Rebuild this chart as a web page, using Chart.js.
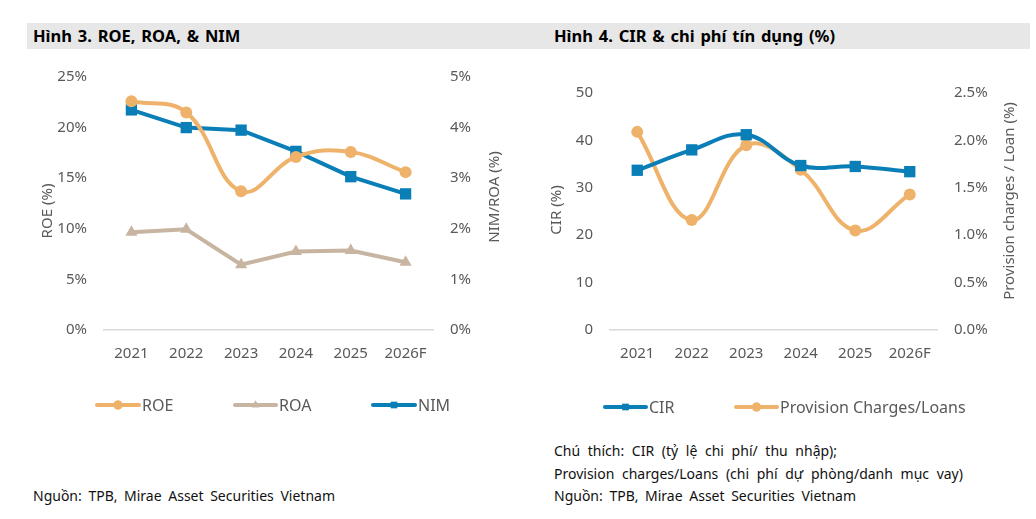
<!DOCTYPE html>
<html>
<head>
<meta charset="utf-8">
<script src="https://cdn.jsdelivr.net/npm/chart.js@4.4.1/dist/chart.umd.min.js"></script>
<style>
  body { margin: 0; background: #fff; width: 1036px; height: 519px; position: relative; overflow: hidden; font-family: "Noto Sans", "Open Sans", sans-serif; }
  .bar { position: absolute; left: 27px; top: 23px; width: 1003px; height: 26px; background: #e7e7e7; }
  .title { position: absolute; top: 24px; font-weight: bold; font-size: 16.5px; word-spacing: 1.5px; color: #000; }
  .note { position: absolute; font-size: 14px; color: #111; word-spacing: 4px; white-space: nowrap; }
  #wrap1 { position: absolute; left: 20px; top: 60px; width: 500px; height: 370px; }
  #wrap2 { position: absolute; left: 540px; top: 60px; width: 496px; height: 370px; }
</style>
</head>
<body>
<div class="bar"></div>
<div class="title" style="left:33px">Hình 3. ROE, ROA, &amp; NIM</div>
<div class="title" style="left:554px">Hình 4. CIR &amp; chi phí tín dụng (%)</div>
<div id="wrap1"><canvas id="chart1"></canvas></div>
<div id="wrap2"><canvas id="chart2"></canvas></div>
<div class="note" style="left:33px;top:486px;word-spacing:3px">Nguồn: TPB, Mirae Asset Securities Vietnam</div>
<div class="note" style="left:554px;top:441px">Chú thích: CIR (tỷ lệ chi phí/ thu nhập);</div>
<div class="note" style="left:554px;top:464px">Provision charges/Loans (chi phí dự phòng/danh mục vay)</div>
<div class="note" style="left:554px;top:486px;word-spacing:3px">Nguồn: TPB, Mirae Asset Securities Vietnam</div>
<script>
// data
var years = ['2021', '2022', '2023', '2024', '2025', '2026F'];
var roe = [22.6, 21.5, 13.7, 17.1, 17.6, 15.6];
var roa = [1.93, 1.99, 1.29, 1.55, 1.57, 1.34];
var nim = [4.35, 4.0, 3.95, 3.53, 3.03, 2.69];
var cir = [33.7, 38.0, 41.2, 34.7, 34.5, 33.4];
var provision = [2.09, 1.16, 1.95, 1.69, 1.05, 1.43];

var ORANGE = '#EFB26A';
var BLUE = '#0A7EB6';
var TAN = '#C8B5A1';
var GREY = '#595959';
var FONT = '"Noto Sans", "Open Sans", sans-serif';

Chart.defaults.font.family = FONT;
Chart.defaults.color = GREY;

// legend drawn as Excel-style line + marker, spots given per chart
var lineLegend = {
  id: 'lineLegend',
  afterDraw: function(chart, args, opts) {
    var ctx = chart.ctx;
    ctx.save();
    chart.data.datasets.forEach(function(ds, i) {
      var it = opts.items[i];
      var y = opts.y;
      ctx.strokeStyle = ds.borderColor;
      ctx.lineWidth = 4;
      ctx.lineCap = 'round';
      ctx.beginPath();
      ctx.moveTo(it.x0, y);
      ctx.lineTo(it.x1, y);
      ctx.stroke();
      ctx.fillStyle = ds.borderColor;
      Chart.helpers.drawPoint(ctx, {pointStyle: ds.pointStyle, radius: 4.5, borderWidth: 0}, (it.x0 + it.x1) / 2, y);
      ctx.fill();
      ctx.fillStyle = GREY;
      ctx.font = '16px ' + FONT;
      ctx.textBaseline = 'middle';
      ctx.fillText(ds.label, it.x1 + 3, y + 1);
    });
    ctx.restore();
  }
};

// vertical axis titles, all read bottom-to-top like the original
var axisTitles = {
  id: 'axisTitles',
  afterDraw: function(chart, args, opts) {
    var ctx = chart.ctx;
    ctx.save();
    ctx.fillStyle = GREY;
    ctx.font = '15px ' + FONT;
    ctx.textAlign = 'center';
    ctx.textBaseline = 'middle';
    opts.items.forEach(function(t) {
      ctx.save();
      ctx.translate(t.x, t.y);
      ctx.rotate(-Math.PI / 2);
      ctx.fillText(t.text, 0, 0);
      ctx.restore();
    });
    ctx.restore();
  }
};

function lineSet(label, data, color, style, radius, axis, tension) {
  return {
    label: label, data: data, yAxisID: axis,
    borderColor: color, backgroundColor: color,
    borderWidth: 4, tension: tension,
    pointStyle: style, pointRadius: radius, pointHoverRadius: radius,
    pointBorderWidth: 0, pointBackgroundColor: color
  };
}

// fixed axis width, and let layout.padding decide the top/bottom
function fixWidth(w) {
  return function(s) { s.width = w; s.paddingTop = 0; s.paddingBottom = 0; };
}

new Chart(document.getElementById('chart1'), {
  type: 'line',
  data: {
    labels: years,
    datasets: [
      lineSet('ROE', roe, ORANGE, 'circle', 6, 'y', 0.4),
      lineSet('ROA', roa, TAN, 'triangle', 7, 'y1', 0),
      lineSet('NIM', nim, BLUE, 'rect', 8, 'y1', 0)
    ]
  },
  options: {
    responsive: true,
    maintainAspectRatio: false,
    animation: false,
    layout: {padding: {top: 17, left: 0, right: 0, bottom: 0}},
    plugins: {
      legend: {display: false},
      tooltip: {enabled: false},
      lineLegend: {
        y: 345,
        items: [{x0: 77, x1: 119}, {x0: 215, x1: 256}, {x0: 353, x1: 395}]
      },
      axisTitles: {
        items: [{text: 'ROE (%)', x: 28, y: 151}, {text: 'NIM/ROA (%)', x: 475, y: 137}]
      }
    },
    scales: {
      x: {
        offset: true,
        grid: {display: false, drawTicks: false},
        border: {color: '#d9d9d9', width: 1.5},
        ticks: {font: {size: 15}, color: GREY, padding: 15},
        afterFit: function(s) { s.height = 100; }
      },
      y: {
        position: 'left', min: 0, max: 25,
        grid: {display: false, drawTicks: false},
        border: {display: false},
        ticks: {stepSize: 5, font: {size: 15}, color: GREY, padding: 17, callback: function(v) { return v + '%'; }},
        afterFit: fixWidth(84)
      },
      y1: {
        position: 'right', min: 0, max: 5,
        grid: {display: false, drawTicks: false},
        border: {display: false},
        ticks: {stepSize: 1, font: {size: 15}, color: GREY, padding: 17, callback: function(v) { return v + '%'; }},
        afterFit: fixWidth(87)
      }
    }
  },
  plugins: [lineLegend, axisTitles]
});

new Chart(document.getElementById('chart2'), {
  type: 'line',
  data: {
    labels: years,
    datasets: [
      lineSet('CIR', cir, BLUE, 'rect', 8, 'y', 0.4),
      lineSet('Provision Charges/Loans', provision, ORANGE, 'circle', 6, 'y1', 0.4)
    ]
  },
  options: {
    responsive: true,
    maintainAspectRatio: false,
    animation: false,
    layout: {padding: {top: 33, left: 0, right: 0, bottom: 0}},
    plugins: {
      legend: {display: false},
      tooltip: {enabled: false},
      lineLegend: {
        y: 347,
        items: [{x0: 65, x1: 106}, {x0: 196, x1: 237}]
      },
      axisTitles: {
        items: [{text: 'CIR (%)', x: 17, y: 150}, {text: 'Provision charges / Loan (%)', x: 470, y: 141}]
      }
    },
    scales: {
      x: {
        offset: true,
        grid: {display: false, drawTicks: false},
        border: {color: '#d9d9d9', width: 1.5},
        ticks: {font: {size: 15}, color: GREY, padding: 15},
        afterFit: function(s) { s.height = 100; }
      },
      y: {
        position: 'left', min: 0, max: 50,
        grid: {display: false, drawTicks: false},
        border: {display: false},
        ticks: {stepSize: 10, font: {size: 15}, color: GREY, padding: 17},
        afterFit: fixWidth(70)
      },
      y1: {
        position: 'right', min: 0, max: 2.5,
        grid: {display: false, drawTicks: false},
        border: {display: false},
        ticks: {stepSize: 0.5, font: {size: 15}, color: GREY, padding: 17, callback: function(v) { return v.toFixed(1) + '%'; }},
        afterFit: fixWidth(99)
      }
    }
  },
  plugins: [lineLegend, axisTitles]
});
</script>
</body>
</html>
